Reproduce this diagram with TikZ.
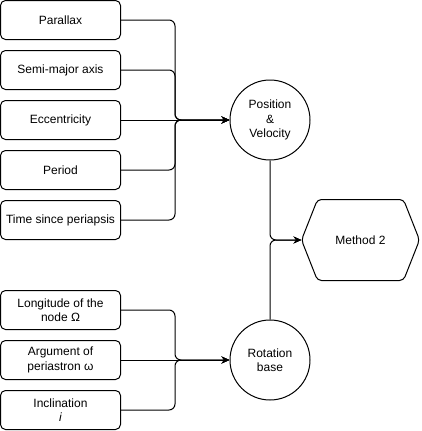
\documentclass[tikz,border=0pt]{standalone}
\usepackage{fontspec}
\setmainfont{Liberation Sans}
\usetikzlibrary{arrows.meta}
\begin{document}
\begin{tikzpicture}[x=1pt, y=-1pt, line width=1pt,
        param/.style={draw, rounded corners=5, minimum width=120, minimum height=39, inner sep=0, align=center, font=\fontsize{12}{14.5}\selectfont},
        stage/.style={draw, circle, minimum size=80, inner sep=0, align=center, font=\fontsize{12}{14.5}\selectfont},
        wire/.style={rounded corners=6, -{Stealth[length=8, width=7]}}]
            \useasboundingbox (0,0) rectangle (421,431);

            \node[param] (par) at (60.5, 20) {Parallax};
            \node[param] (sma) at (60.5, 70) {Semi-major axis};
            \node[param] (ecc) at (60.5, 120) {Eccentricity};
            \node[param] (per) at (60.5, 170) {Period};
            \node[param] (tsp) at (60.5, 220) {Time since periapsis};
            \node[param] (lon) at (60.5, 310) {Longitude of the\\node Ω};
            \node[param] (arg) at (60.5, 360) {Argument of\\periastron ω};
            \node[param] (inc) at (60.5, 410) {Inclination\\\textit{i}};

            \node[stage] (pv) at (270, 120) {Position\\\&\\Velocity};
            \node[stage] (rot) at (270, 360) {Rotation\\base};
            \node[minimum width=117, minimum height=80, inner sep=0, font=\fontsize{12}{14.5}\selectfont] (meth) at (360.5, 240) {Method 2};
            \draw[rounded corners=4] (meth.west) -- ([xshift=16]meth.north west) -- ([xshift=-16]meth.north east) -- (meth.east) -- ([xshift=-16]meth.south east) -- ([xshift=16]meth.south west) -- cycle;

            \coordinate (pvin) at (175, 120);
            \coordinate (rotin) at (175, 360);
            \coordinate (methin) at (270, 240);

            \draw[wire] (par.east) -- (par.east -| pvin) -- (pvin) -- (pv.west);
            \draw[wire] (sma.east) -- (sma.east -| pvin) -- (pvin) -- (pv.west);
            \draw[wire] (ecc.east) -- (pv.west);
            \draw[wire] (per.east) -- (per.east -| pvin) -- (pvin) -- (pv.west);
            \draw[wire] (tsp.east) -- (tsp.east -| pvin) -- (pvin) -- (pv.west);

            \draw[wire] (lon.east) -- (lon.east -| rotin) -- (rotin) -- (rot.west);
            \draw[wire] (arg.east) -- (rot.west);
            \draw[wire] (inc.east) -- (inc.east -| rotin) -- (rotin) -- (rot.west);

            \draw[wire] (pv.south) -- (methin) -- (meth.west);
            \draw[wire] (rot.north) -- (methin) -- (meth.west);
        \end{tikzpicture}
\end{document}
